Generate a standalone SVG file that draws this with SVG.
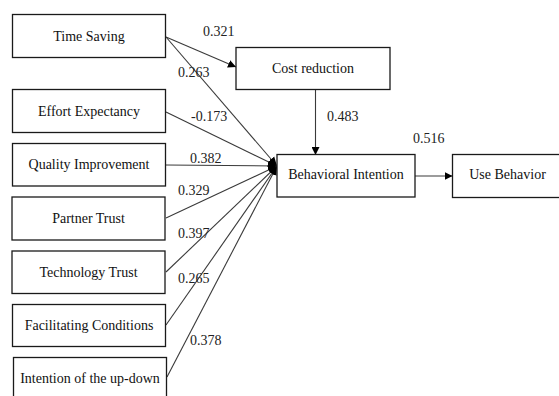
<svg xmlns="http://www.w3.org/2000/svg" width="559" height="396" viewBox="0 0 559 396">
<style>
.box{fill:#fff;stroke:#1a1a1a;stroke-width:1.3}
text{font-family:'Liberation Serif','Times New Roman','DejaVu Serif',serif;font-size:14px}
.t{fill:#111;text-anchor:middle}
.lbl{fill:#222}
.ln{stroke:#3a3a3a;stroke-width:1.1;fill:none}
</style>
<defs>
<marker id="ah" viewBox="0 0 10 10" refX="10" refY="5" markerWidth="8" markerHeight="8" markerUnits="userSpaceOnUse" orient="auto">
<path d="M0,0 L10,5 L0,10 z" fill="#000"/>
</marker>
<marker id="ah2" viewBox="0 0 10 10" refX="10" refY="5" markerWidth="9" markerHeight="9" markerUnits="userSpaceOnUse" orient="auto">
<path d="M0,0.5 L10,5 L0,9.5 z" fill="#000"/>
</marker>
</defs>
<rect width="559" height="396" fill="#fff"/>
<g id="connectors">
<line class="ln" x1="166" y1="37" x2="236" y2="67" marker-end="url(#ah)"/>
<line class="ln" x1="166" y1="37" x2="277" y2="166" marker-end="url(#ah2)"/>
<line class="ln" x1="166" y1="112" x2="277" y2="166" marker-end="url(#ah2)"/>
<line class="ln" x1="166" y1="165" x2="277" y2="166" marker-end="url(#ah2)"/>
<line class="ln" x1="166" y1="218" x2="277" y2="166" marker-end="url(#ah2)"/>
<line class="ln" x1="166" y1="272" x2="277" y2="166" marker-end="url(#ah2)"/>
<line class="ln" x1="166" y1="325" x2="277" y2="166" marker-end="url(#ah2)"/>
<line class="ln" x1="167" y1="377" x2="277" y2="166" marker-end="url(#ah2)"/>
<line class="ln" x1="315.5" y1="89" x2="315.5" y2="155" marker-end="url(#ah)"/>
<line class="ln" x1="415" y1="176" x2="452.5" y2="176" marker-end="url(#ah)"/>
<text class="lbl" x="203" y="36">0.321</text>
<text class="lbl" x="178" y="77">0.263</text>
<text class="lbl" x="191" y="121">-0.173</text>
<text class="lbl" x="190" y="163">0.382</text>
<text class="lbl" x="178" y="195">0.329</text>
<text class="lbl" x="178" y="238">0.397</text>
<text class="lbl" x="178" y="283">0.265</text>
<text class="lbl" x="190" y="345">0.378</text>
<text class="lbl" x="327" y="121">0.483</text>
<text class="lbl" x="413" y="143">0.516</text>
</g>
<g id="time-saving"><rect class="box" x="12.5" y="14.5" width="153" height="43"/><text class="t" x="89" y="40.5">Time Saving</text></g>
<g id="effort-expectancy"><rect class="box" x="12.5" y="89.5" width="153" height="43"/><text class="t" x="89" y="116">Effort Expectancy</text></g>
<g id="quality-improvement"><rect class="box" x="12.5" y="143.5" width="153" height="42.5"/><text class="t" x="89" y="169">Quality Improvement</text></g>
<g id="partner-trust"><rect class="box" x="12" y="197" width="153" height="43"/><text class="t" x="88.5" y="223">Partner Trust</text></g>
<g id="technology-trust"><rect class="box" x="12" y="251" width="153" height="42.5"/><text class="t" x="88.5" y="277">Technology Trust</text></g>
<g id="facilitating-conditions"><rect class="box" x="12.5" y="304.5" width="153" height="42"/><text class="t" x="89" y="330">Facilitating Conditions</text></g>
<g id="intention-up-down"><rect class="box" x="13.5" y="357.5" width="153" height="45"/><text class="t" x="90" y="383">Intention of the up-down</text></g>
<g id="cost-reduction"><rect class="box" x="236" y="47.5" width="154" height="42"/><text class="t" x="313" y="73">Cost reduction</text></g>
<g id="behavioral-intention"><rect class="box" x="277" y="154.5" width="138" height="42.5"/><text class="t" x="346" y="179">Behavioral Intention</text></g>
<g id="use-behavior"><rect class="box" x="452.5" y="154.5" width="110" height="43"/><text class="t" x="507.5" y="179">Use Behavior</text></g>
</svg>
